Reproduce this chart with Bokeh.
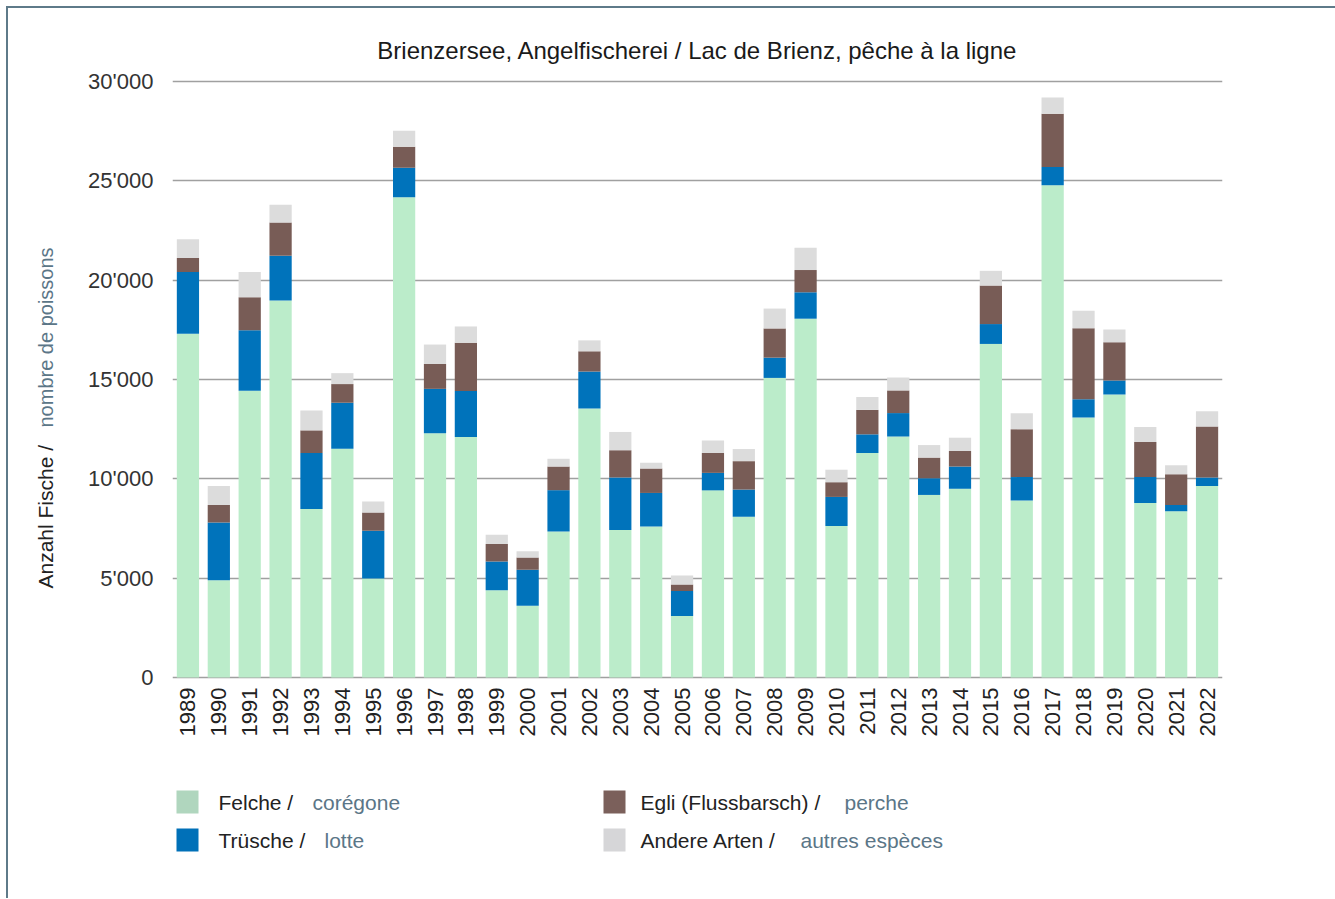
import math
from bokeh.plotting import figure
from bokeh.models import ColumnDataSource, Range1d, FixedTicker
from bokeh.layouts import column, row
from bokeh.core.properties import value
from bokeh.embed import file_html
from bokeh.resources import INLINE

# ---------------- data ----------------
years = [str(y) for y in range(1989, 2023)]
felche = [17300, 4900, 14440, 18980, 8480, 11520, 4980, 24170, 12300, 12110,
          4390, 3610, 7350, 13540, 7430, 7600, 3100, 9420, 8090, 15080,
          18060, 7620, 11300, 12130, 9190, 9500, 16790, 8910, 24780, 13090,
          14240, 8780, 8370, 9640]
truesche = [3110, 2900, 3040, 2250, 2820, 2310, 2410, 1490, 2230, 2310,
            1450, 1820, 2080, 1860, 2640, 1690, 1250, 880, 1370, 1020,
            1330, 1470, 940, 1180, 840, 1120, 1000, 1180, 920, 920,
            710, 1310, 310, 430]
egli = [710, 880, 1660, 1670, 1140, 940, 920, 1060, 1250, 2430,
        880, 610, 1190, 1020, 1370, 1230, 330, 1000, 1430, 1470,
        1120, 740, 1230, 1140, 1040, 780, 1940, 2410, 2680, 3570,
        1920, 1760, 1550, 2570]
andere = [940, 960, 1270, 900, 1000, 550, 550, 800, 980, 820,
          470, 310, 390, 550, 920, 290, 450, 630, 610, 1000,
          1120, 630, 650, 650, 630, 670, 740, 800, 820, 880,
          650, 760, 450, 760]
y_ticks = [0, 5000, 10000, 15000, 20000, 25000, 30000]
y_tick_labels = ["0", "5'000", "10'000", "15'000", "20'000", "25'000", "30'000"]

series_keys = ["felche", "truesche", "egli", "andere"]
bar_colors = ["#bbecca", "#0073bb", "#785c56", "#dcdcdc"]
swatch_colors = ["#b0d6be", "#0070b8", "#7b605b", "#d6d6d8"]
legend_main = ["Felche / ", "Trüsche / ", "Egli (Flussbarsch) / ", "Andere Arten / "]
legend_fr = ["corégone", "lotte", "perche", "autres espèces"]

title_text = "Brienzersee, Angelfischerei / Lac de Brienz, pêche à la ligne"
ylabel_de = ["Anzahl Fische / "]
ylabel_fr = ["nombre de poissons"]

FONT = "Liberation Sans"
DARK = "#222222"
SLATE = "#5b7687"

Y_RANGE = (-100, 30100)

# ---------------- main chart ----------------
idx = list(range(len(years)))
src = ColumnDataSource(dict(x=idx, felche=felche, truesche=truesche,
                            egli=egli, andere=andere))

p = figure(width=1271, height=762, output_backend="svg", toolbar_location=None,
           x_range=Range1d(-0.5, len(years) - 0.5), y_range=Range1d(*Y_RANGE),
           min_border_left=108, min_border_right=113, min_border_top=71,
           min_border_bottom=91, outline_line_color=None)
p.vbar_stack(series_keys, x="x", width=0.72, color=bar_colors, line_width=0,
             source=src)

p.title.text = title_text
p.title.align = "center"
p.title.text_font = FONT
p.title.text_font_size = "24px"
p.title.text_font_style = "normal"
p.title.text_color = "#1a1a1a"
p.title.standoff = 31

p.xgrid.grid_line_color = None
p.ygrid.grid_line_color = "#a0a0a0"
p.ygrid.grid_line_width = 1.3
p.ygrid.ticker = FixedTicker(ticks=y_ticks)

p.xaxis.ticker = FixedTicker(ticks=idx)
p.xaxis.major_label_overrides = {i: y for i, y in zip(idx, years)}
p.xaxis.major_label_orientation = math.pi / 2
p.xaxis.axis_line_color = None
p.xaxis.major_tick_line_color = None
p.xaxis.minor_tick_line_color = None
p.xaxis.major_tick_out = 0
p.xaxis.major_label_standoff = 8
p.xaxis.major_label_text_font = FONT
p.xaxis.major_label_text_font_size = "22px"
p.xaxis.major_label_text_color = DARK

p.yaxis.ticker = FixedTicker(ticks=y_ticks)
p.yaxis.major_label_overrides = {t: l for t, l in zip(y_ticks, y_tick_labels)}
p.yaxis.axis_line_color = None
p.yaxis.major_tick_line_color = None
p.yaxis.minor_tick_line_color = None
p.yaxis.major_tick_out = 0
p.yaxis.major_label_standoff = 19
p.yaxis.major_label_text_font = FONT
p.yaxis.major_label_text_font_size = "22px"
p.yaxis.major_label_text_color = "#333333"

# ---------------- y-axis label (two colours) ----------------
a = figure(width=56, height=762, output_backend="svg", toolbar_location=None,
           x_range=Range1d(0, 56), y_range=Range1d(*Y_RANGE),
           min_border_left=0, min_border_right=0, min_border_top=71,
           min_border_bottom=91, outline_line_color=None)
a.axis.visible = False
a.grid.visible = False
a.text(x=[37], y=[4480], text=ylabel_de, angle=math.pi / 2, text_align="left",
       text_baseline="middle", text_font=value(FONT), text_font_size="21px",
       text_color=DARK)
a.text(x=[37], y=[12584], text=ylabel_fr, angle=math.pi / 2, text_align="left",
       text_baseline="middle", text_font=value(FONT), text_font_size="20px",
       text_color=SLATE)

# ---------------- legend ----------------
q = figure(width=1327, height=128, output_backend="svg", toolbar_location=None,
           x_range=Range1d(172, 1222), y_range=Range1d(898, 770),
           min_border_left=164, min_border_right=113, min_border_top=0,
           min_border_bottom=0, outline_line_color=None)
q.axis.visible = False
q.grid.visible = False

sw_x = [187, 187, 614, 614]
sw_y = [801.5, 839.5, 801.5, 839.5]
tx_main = [218, 218, 640, 640]
tx_fr = [312, 324, 844, 800]
q.rect(x=sw_x, y=sw_y, width=22, height=23, fill_color=swatch_colors, line_color=None)
q.text(x=tx_main, y=sw_y, text=legend_main, text_baseline="middle",
       text_font=value(FONT), text_font_size="21px", text_color=DARK)
q.text(x=tx_fr, y=sw_y, text=legend_fr, text_baseline="middle",
       text_font=value(FONT), text_font_size="21px", text_color=SLATE)

layout = column(row(a, p, spacing=0), q, spacing=0)
layout.margin = (6, 0, 0, 6)
layout.styles = {"border-top": "2px solid #5e7a89", "border-left": "2px solid #5e7a89"}

open("out.html", "w").write(file_html(layout, INLINE))
